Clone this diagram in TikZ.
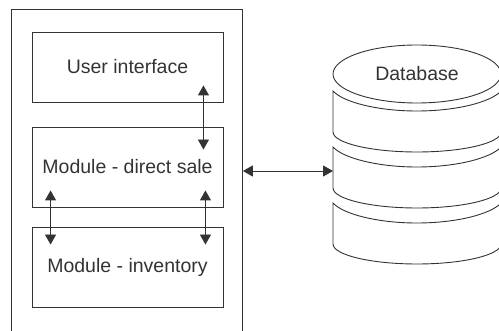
\documentclass[tikz,border=0pt]{standalone}
\usepackage{fontspec}
\setmainfont{Liberation Sans}
\usetikzlibrary{arrows.meta,calc,shapes.geometric}
\begin{document}
\begin{tikzpicture}[x=1pt,y=-1pt,
  line/.style={draw=black!80,line width=0.9pt},
  txt/.style={font=\fontsize{19.5}{23}\selectfont, text=black!80},
  modbox/.style={line, txt, rectangle, minimum width=191pt, inner sep=0pt},
  dbl/.style={line, {Triangle[length=10pt,width=11pt]}-{Triangle[length=10pt,width=11pt]}},
]
\useasboundingbox (0,0) rectangle (499,331);
\clip (0,0) rectangle (499,331);
% system frame
\node[line, rectangle, minimum width=231pt, minimum height=340pt, inner sep=0pt, anchor=north west] (sys) at (11,9) {};
% modules
\node[modbox, minimum height=70pt] (ui) at (127.5,67) {User interface};
\node[modbox, minimum height=80pt] (ds) at (127.5,167) {Module - direct sale};
\node[modbox, minimum height=80pt] (inv) at (127.5,267) {Module - inventory};
% database
\node[line, txt, ellipse, minimum width=168pt, minimum height=58pt, inner sep=0pt] (db) at (417,74) {Database};
\foreach \yt in {91,147,203}{
  \draw[line] (333,\yt) -- (333,\yt+41) .. controls (333,\yt+52) and (371,\yt+61) .. (417,\yt+61)
    .. controls (463,\yt+61) and (501,\yt+52) .. (501,\yt+41) -- (501,\yt)
    .. controls (491,\yt+11) and (457,\yt+20) .. (417,\yt+20)
    .. controls (377,\yt+20) and (343,\yt+11) .. (333,\yt) -- cycle;
}
\coordinate (dbin) at (333,171);
% connectors
\draw[dbl] ([shift={(-20,-17)}]ui.south east) -- ([shift={(-20,23)}]ds.north east);
\draw[dbl] ([shift={(19,-17)}]ds.south west) -- ([shift={(19,18)}]inv.north west);
\draw[dbl] ([shift={(-18,-17)}]ds.south east) -- ([shift={(-18,18)}]inv.north east);
\draw[dbl] (sys.east |- dbin) -- (dbin);
\end{tikzpicture}
\end{document}
